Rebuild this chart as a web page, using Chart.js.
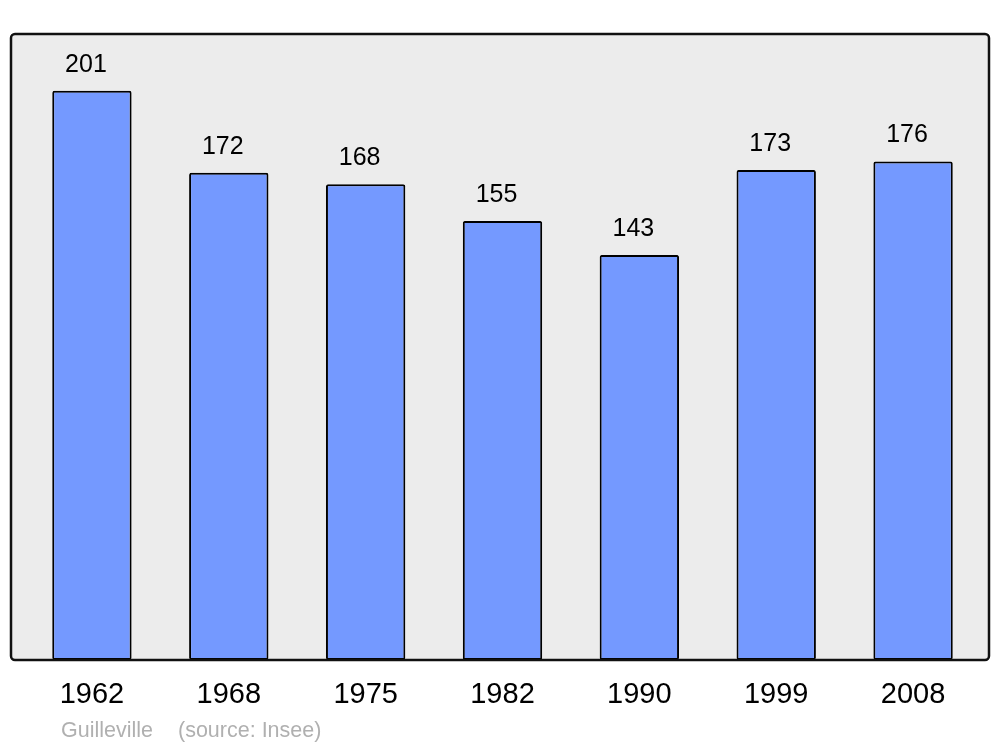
<!DOCTYPE html>
<html><head><meta charset="utf-8">
<script src="https://cdn.jsdelivr.net/npm/chart.js@4/dist/chart.umd.min.js"></script>
<style>html,body{margin:0;padding:0;background:#fff}#wrap{width:1000px;height:747px}</style>
</head><body><div id="wrap"><canvas id="c" width="1000" height="747"></canvas></div>
<script>
const years = ['1962','1968','1975','1982','1990','1999','2008'];
const population = [201,172,168,155,143,173,176];
const footerName = 'Guilleville';
const footerSource = '(source: Insee)';

const FONT = '"Liberation Sans", Arial, sans-serif';

const boxPlugin = {
  id: 'box',
  beforeDraw(chart) {
    const ctx = chart.ctx;
    ctx.save();
    ctx.fillStyle = '#ececec';
    roundRect(ctx, 11, 34, 978, 626, 4);
    ctx.fill();
    ctx.restore();
  },
  afterDatasetsDraw(chart) {
    const ctx = chart.ctx;
    ctx.save();
    ctx.strokeStyle = '#111';
    ctx.lineWidth = 2.5;
    roundRect(ctx, 11, 34, 978, 626, 4);
    ctx.stroke();
    // value labels
    const meta = chart.getDatasetMeta(0);
    ctx.fillStyle = '#000';
    ctx.font = '25px ' + FONT;
    ctx.textAlign = 'center';
    ctx.textBaseline = 'alphabetic';
    meta.data.forEach((bar, i) => {
      ctx.fillText(String(population[i]), bar.x - 6, bar.y - 19);
    });
    // footer
    ctx.fillStyle = '#b0b0b0';
    ctx.font = '21.5px ' + FONT;
    ctx.textAlign = 'left';
    ctx.fillText(footerName, 61, 737);
    ctx.fillText(footerSource, 178, 737);
    ctx.restore();
  }
};
function roundRect(ctx, x, y, w, h, r) {
  ctx.beginPath();
  ctx.moveTo(x + r, y);
  ctx.lineTo(x + w - r, y);
  ctx.arcTo(x + w, y, x + w, y + r, r);
  ctx.lineTo(x + w, y + h - r);
  ctx.arcTo(x + w, y + h, x + w - r, y + h, r);
  ctx.lineTo(x + r, y + h);
  ctx.arcTo(x, y + h, x, y + h - r, r);
  ctx.lineTo(x, y + r);
  ctx.arcTo(x, y, x + r, y, r);
  ctx.closePath();
}

new Chart(document.getElementById('c'), {
  type: 'bar',
  data: {
    labels: years,
    datasets: [{
      data: population,
      backgroundColor: '#7499ff',
      borderColor: '#000',
      borderWidth: 2,
      borderRadius: 2,
      borderSkipped: false,
      barPercentage: 0.58,
      categoryPercentage: 1
    }]
  },
  options: {
    responsive: false,
    animation: false,
    events: [],
    layout: { padding: { left: 23.5, right: 18.5, top: 34, bottom: 0 } },
    plugins: { legend: { display: false }, tooltip: { enabled: false } },
    scales: {
      x: {
        grid: { display: false },
        border: { display: false },
        ticks: { color: '#000', font: { family: FONT, size: 29 }, padding: 10 },
        afterFit(s) { s.height = 87; }
      },
      y: {
        display: false,
        min: 0,
        max: 221
      }
    }
  },
  plugins: [boxPlugin]
});
</script>
</body></html>
